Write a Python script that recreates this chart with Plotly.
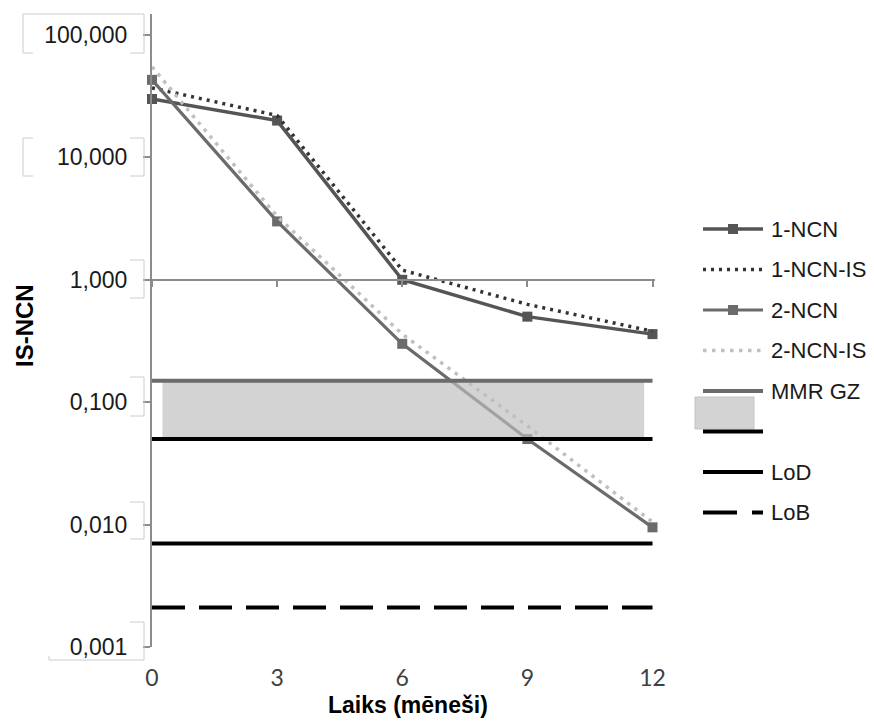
import plotly.graph_objects as go

# ---------------- data ----------------
months = [0, 3, 6, 9, 12]
month_labels = ["0", "3", "6", "9", "12"]
ncn1 = [30, 20, 1.0, 0.50, 0.36]
ncn1_is = [37, 22, 1.2, 0.63, 0.38]
ncn2 = [43, 3.0, 0.30, 0.050, 0.0095]
ncn2_is = [55, 3.3, 0.36, 0.064, 0.0105]
limit_x = [0, 12]
mmr_gz = [0.15, 0.15]
mmr_low = [0.05, 0.05]
lod = [0.007, 0.007]
lob = [0.0021, 0.0021]
band_x = [0.25, 11.8]
band_y = [0.05, 0.15]
y_tickvals = [0.001, 0.01, 0.1, 1, 10, 100]
y_ticktext = ["0,001", "0,010", "0,100", "1,000", "10,000", "100,000"]
legend_names = ["1-NCN", "1-NCN-IS", "2-NCN", "2-NCN-IS", "MMR GZ", "", "LoD", "LoB"]

# ---------------- geometry ----------------
W, H = 874, 722
L, R, T, B = 152, 219, 14, 75
PW, PH = W - L - R, H - T - B
YMIN, YMAX = -3, 2.1716
XMAX = 12.06


def px2x(px):
    return (px - L) / PW


def px2y(py):
    return (H - B - py) / PH


C1 = "#555555"
C2 = "#6b6b6b"
CDOT1 = "#333333"
CDOT2 = "#c0c0c0"
BAND = "rgba(189,189,189,0.67)"
AXC = "#8c8c8c"
BOXC = "#cccccc"
FONT = "Liberation Sans, Arial, sans-serif"

fig = go.Figure()

fig.add_trace(go.Scatter(x=months, y=ncn1, name=legend_names[0], mode="lines+markers",
                         line=dict(color=C1, width=3.5),
                         marker=dict(symbol="square", size=10, color=C1),
                         cliponaxis=False, showlegend=False))
fig.add_trace(go.Scatter(x=months, y=ncn1_is, name=legend_names[1], mode="lines",
                         line=dict(color=CDOT1, width=3.5, dash="3px,5px"),
                         cliponaxis=False, showlegend=False))
fig.add_trace(go.Scatter(x=months, y=ncn2, name=legend_names[2], mode="lines+markers",
                         line=dict(color=C2, width=3.2),
                         marker=dict(symbol="square", size=10, color=C2),
                         cliponaxis=False, showlegend=False))
fig.add_trace(go.Scatter(x=months, y=ncn2_is, name=legend_names[3], mode="lines",
                         line=dict(color=CDOT2, width=3.5, dash="3.5px,5.5px"),
                         cliponaxis=False, showlegend=False))
# band
fig.add_trace(go.Scatter(x=[band_x[0], band_x[1], band_x[1], band_x[0], band_x[0]],
                         y=[band_y[0], band_y[0], band_y[1], band_y[1], band_y[0]],
                         mode="lines", fill="toself", fillcolor=BAND,
                         line=dict(width=0), name="band", showlegend=False,
                         hoverinfo="skip"))
fig.add_trace(go.Scatter(x=limit_x, y=mmr_gz, name=legend_names[4], mode="lines",
                         line=dict(color=C2, width=4), showlegend=False))
fig.add_trace(go.Scatter(x=limit_x, y=mmr_low, name="MMR GZ low", mode="lines",
                         line=dict(color="#000000", width=4), showlegend=False))
fig.add_trace(go.Scatter(x=limit_x, y=lod, name=legend_names[6], mode="lines",
                         line=dict(color="#000000", width=4), showlegend=False))
fig.add_trace(go.Scatter(x=limit_x, y=lob, name=legend_names[7], mode="lines",
                         line=dict(color="#000000", width=4, dash="33px,14px"),
                         showlegend=False))
# carrier for the crossing axis at y = 1
fig.add_trace(go.Scatter(x=months, y=[None] * len(months), xaxis="x2", mode="lines",
                         showlegend=False, hoverinfo="skip"))

# ---------------- manual legend ----------------
shapes = []
annotations = []
leg_y = [229, 269.5, 310, 350.5, 391, 431.5, 472, 512.5]
LX0, LX1, LTX = 703, 763, 769


def hline(y, color, width, dash="solid"):
    shapes.append(dict(type="line", xref="paper", yref="paper",
                       x0=px2x(LX0), x1=px2x(LX1), y0=px2y(y), y1=px2y(y),
                       line=dict(color=color, width=width, dash=dash)))


def square(y, color):
    cx = (LX0 + LX1) / 2
    shapes.append(dict(type="rect", xref="paper", yref="paper",
                       x0=px2x(cx - 5), x1=px2x(cx + 5), y0=px2y(y + 5), y1=px2y(y - 5),
                       line=dict(width=0), fillcolor=color))


hline(leg_y[0], C1, 3.5); square(leg_y[0], C1)
hline(leg_y[1], CDOT1, 3.5, "3px,5px")
hline(leg_y[2], C2, 3.2); square(leg_y[2], C2)
hline(leg_y[3], CDOT2, 3.5, "3.5px,5.5px")
hline(leg_y[4], C2, 4)
shapes.append(dict(type="rect", xref="paper", yref="paper",
                   x0=px2x(695), x1=px2x(754), y0=px2y(429), y1=px2y(397),
                   line=dict(color="#c4c4c4", width=1), fillcolor="#d3d3d3"))
hline(leg_y[5], "#000000", 4)
hline(leg_y[6], "#000000", 4)
hline(leg_y[7], "#000000", 4, "34px,15px")

for name, y in zip(legend_names, leg_y):
    if name:
        annotations.append(dict(text=name, xref="paper", yref="paper",
                                x=px2x(LTX), y=px2y(y), xanchor="left", yanchor="middle",
                                showarrow=False, font=dict(family=FONT, size=22, color="#1a1a1a")))

# ---------------- tick label frames (as in the original) ----------------


def seg(x0, y0, x1, y1):
    shapes.append(dict(type="line", xref="paper", yref="paper",
                       x0=px2x(x0), y0=px2y(y0), x1=px2x(x1), y1=px2y(y1),
                       line=dict(color=BOXC, width=1)))


seg(23, 14, 144, 14); seg(23, 14, 23, 53); seg(23, 53, 33, 53); seg(130, 53, 144, 53); seg(144, 14, 144, 53)
seg(23, 138, 23, 176); seg(23, 138, 33, 138); seg(23, 176, 33, 176)
seg(144, 138, 144, 176); seg(130, 138, 144, 138); seg(130, 176, 144, 176)
for a, b in [(260, 298), (377, 416), (502, 539)]:
    seg(144, a, 144, b); seg(130, a, 144, a); seg(130, b, 144, b)
seg(130, 622, 144, 622); seg(144, 622, 144, 660); seg(49, 660, 144, 660); seg(49, 656, 49, 660)

# ---------------- titles ----------------
annotations.append(dict(text="<b>Laiks (mēneši)</b>", xref="paper", yref="paper",
                        x=px2x(408), y=px2y(705), xanchor="center", yanchor="middle",
                        showarrow=False, font=dict(family=FONT, size=23, color="#000000")))
annotations.append(dict(text="<b>IS-NCN</b>", xref="paper", yref="paper",
                        x=px2x(24), y=px2y(326), xanchor="center", yanchor="middle",
                        textangle=-90, showarrow=False,
                        font=dict(family=FONT, size=24, color="#000000")))

fig.update_layout(
    width=W, height=H,
    margin=dict(l=L, r=R, t=T, b=B, pad=0),
    paper_bgcolor="white", plot_bgcolor="white",
    showlegend=False,
    shapes=shapes, annotations=annotations,
    xaxis=dict(range=[0, XMAX], tickmode="array", tickvals=months, ticktext=month_labels,
               showline=False, showgrid=False, zeroline=False, ticks="",
               ticklabelstandoff=15,
               tickfont=dict(family="Lato, sans-serif", size=23, color="#404040")),
    xaxis2=dict(range=[0, XMAX], overlaying="x", anchor="free",
                position=(0 - YMIN) / (YMAX - YMIN),
                tickmode="array", tickvals=months, showticklabels=False,
                showline=True, linecolor=AXC, linewidth=1.5,
                ticks="outside", ticklen=6, tickcolor=AXC, tickwidth=1.5,
                showgrid=False, zeroline=False),
    yaxis=dict(type="log", range=[YMIN, YMAX], tickmode="array",
               tickvals=y_tickvals, ticktext=y_ticktext,
               showline=True, linecolor=AXC, linewidth=2,
               ticks="outside", ticklen=7, tickcolor=AXC, tickwidth=1.5,
               ticklabelstandoff=11,
               showgrid=False, zeroline=False,
               tickfont=dict(family=FONT, size=23, color="#1a1a1a")),
)

fig.write_html("out.html", config={"displayModeBar": False},
               post_script="document.body.style.margin='0';")
